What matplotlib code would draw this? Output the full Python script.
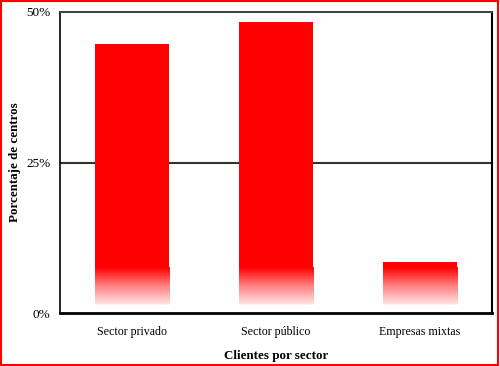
import numpy as np
import matplotlib
matplotlib.use("Agg")
import matplotlib.pyplot as plt
from matplotlib.colors import LinearSegmentedColormap
from matplotlib.patches import Rectangle

# data
categorias = ["Sector privado", "Sector público", "Empresas mixtas"]
porcentajes = [44.7, 48.3, 8.4]
ticks_y = [0, 25, 50]
ticks_y_txt = ["0%", "25%", "50%"]

plt.rcParams["font.family"] = ["Liberation Serif", "DejaVu Serif"]

fig = plt.figure(figsize=(5.0, 3.66), dpi=100)
ax = fig.add_axes([60/500, 1-313/366, 432/500, 301/366])

x = np.arange(len(categorias))
ancho = 0.52
fade_top = 7.6     # solid red above this
fade_bottom = 1.3  # white below this

bars = ax.bar(x, porcentajes, width=ancho, color="#ff0000", zorder=2)

# fade to white at the foot of each bar
cmap = LinearSegmentedColormap.from_list(
    "fade", [(0, "#ffffff"), (fade_bottom / fade_top, "#ffffff"),
             (fade_bottom / fade_top + 0.02, "#ffe2e2"), (0.6, "#ff8080"), (1, "#ff0000")])
grad = np.linspace(0, 1, 128).reshape(-1, 1)
for b in bars:
    top = min(b.get_height(), fade_top)
    x0 = b.get_x()
    g = grad * top / fade_top
    ax.imshow(g, cmap=cmap, vmin=0, vmax=1, origin="lower", aspect="auto",
              extent=[x0, x0 + b.get_width(), 0, top], zorder=2.2, interpolation="nearest")

ax.set_xlim(-0.5, len(categorias) - 0.5)
ax.set_ylim(0, 50)
ax.axhline(25, color="#333333", lw=1.5, zorder=1)

ax.set_yticks(ticks_y)
ax.set_yticklabels(ticks_y_txt, fontsize=9.5)
ax.set_xticks(x)
ax.set_xticklabels(categorias, fontsize=8.6)
ax.tick_params(axis="x", length=0, pad=9)
ax.tick_params(axis="y", length=0, pad=7)

ax.set_xlabel("Clientes por sector", fontsize=9.4, fontweight="bold", labelpad=9)
fig.text(15/500, 1 - 162/366, "Porcentaje de centros", rotation=90, ha="center", va="center",
         fontsize=9.4, fontweight="bold")

ax.spines["top"].set_color("#444444")
ax.spines["top"].set_linewidth(1.5)
ax.spines["left"].set_linewidth(1.2)
ax.spines["right"].set_linewidth(1.5)
ax.spines["bottom"].set_linewidth(2)

# red frame round the whole picture
fig.patches.append(Rectangle((0.002, 0.003), 0.994, 0.994, transform=fig.transFigure,
                             fill=False, edgecolor="red", lw=1.5))

fig.savefig("out.png", dpi=100)
